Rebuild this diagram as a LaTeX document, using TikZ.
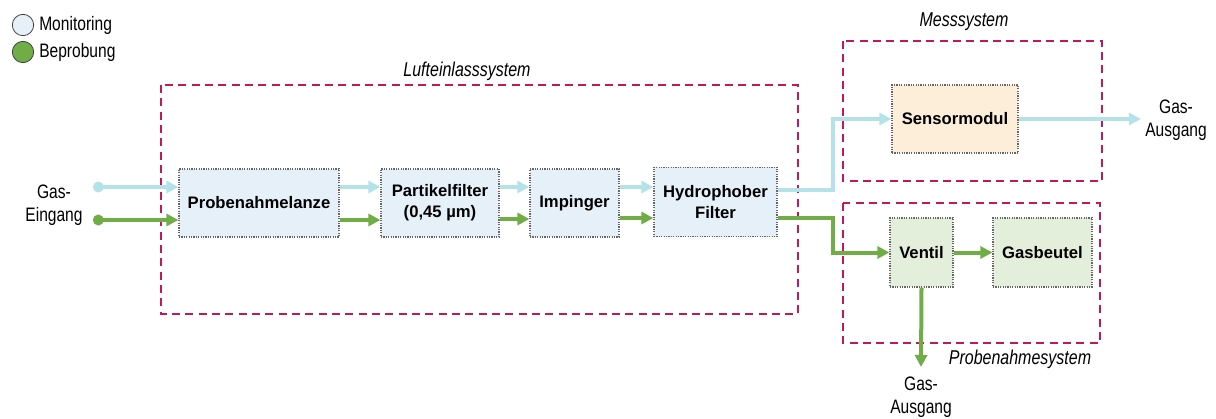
\documentclass[tikz,border=0pt]{standalone}
\usepackage{fontspec}
\setmainfont{Liberation Sans}
\newfontfamily\narrowfont{Liberation Sans}[FakeStretch=0.8]
\usetikzlibrary{arrows.meta,calc}
\definecolor{sysred}{HTML}{C2185B}
\definecolor{monline}{HTML}{B3E3E8}
\definecolor{probline}{HTML}{70AD47}
\definecolor{bluefill}{HTML}{E6F0F8}
\definecolor{orangefill}{HTML}{FDEEDA}
\definecolor{greenfill}{HTML}{E3EFDB}
\definecolor{dotgray}{HTML}{666666}
\tikzset{
  unit/.style={draw=dotgray, line width=0.9pt, dash pattern=on 0.9pt off 0.9pt,
    font=\fontsize{12.5}{14}\selectfont\bfseries, align=center, inner sep=0pt},
  bluebox/.style={unit, fill=bluefill},
  orangebox/.style={unit, fill=orangefill},
  greenbox/.style={unit, fill=greenfill},
  sysbox/.style={draw=sysred, line width=1.6pt, dash pattern=on 6pt off 4pt},
  syslabel/.style={font=\narrowfont\fontsize{15}{17}\selectfont\itshape},
  plain/.style={font=\narrowfont\fontsize{14.6}{17.5}\selectfont, align=center, inner sep=0pt},
  mon/.style={draw=monline, line width=3pt, -{Triangle[length=9pt,width=9pt]}},
  prob/.style={draw=probline, line width=3pt, -{Triangle[length=9pt,width=9pt]}},
  legcirc/.style={circle, draw=dotgray!60!black, line width=0.6pt, minimum size=16pt, inner sep=0pt},
}
\begin{document}
\begin{tikzpicture}[x=0.75pt,y=-0.75pt]
\useasboundingbox (0,0) rectangle (1216,418);

% legend
\node[legcirc, fill=bluefill] (lm) at (23,25) {};
\node[legcirc, fill=probline] (lb) at (23,52) {};
\node[plain, anchor=west] (lmt) at (39,25) {Monitoring};
\node[plain, anchor=west] (lbt) at (39,52) {Beprobung};

% system boxes
\draw[sysbox] (161,85) rectangle (798,314);
\node[syslabel] (l1) at (467,71) {Lufteinlasssystem};
\draw[sysbox] (843,41) rectangle (1102,181);
\node[syslabel] (l2) at (964,22) {Messsystem};
\draw[sysbox] (843,203) rectangle (1100,343);
\node[syslabel] (l3) at (1020,359) {Probenahmesystem};

% units
\node[bluebox, minimum width=120pt, minimum height=51pt] (pl) at (259,203) {Probenahmelanze};
\node[bluebox, minimum width=88.5pt, minimum height=51pt] (pf) at (440,203) {Partikelfilter\\[2pt](0,45 µm)};
\node[bluebox, minimum width=66.75pt, minimum height=51pt] (im) at (574.5,203) {Impinger};
\node[bluebox, minimum width=92.25pt, minimum height=52pt] (hf) at (715.5,202) {Hydrophober\\[2pt]Filter};
\node[orangebox, minimum width=94.5pt, minimum height=51pt] (sm) at (955,119) {Sensormodul};
\node[greenbox, minimum width=47.25pt, minimum height=51.75pt] (ve) at (921.5,252.5) {Ventil};
\node[greenbox, minimum width=74.25pt, minimum height=51.75pt] (gb) at (1042.5,252.5) {Gasbeutel};

% io labels
\node[plain] (ein) at (54,205) {Gas-\\Eingang};
\node[plain] (aus1) at (1176,120) {Gas-\\Ausgang};
\node[plain] (aus2) at (921,397) {Gas-\\Ausgang};

% reference rows
\coordinate (my) at (0,187);
\coordinate (py) at (0,220);
\coordinate (ms) at (93,187);
\coordinate (ps) at (93,220);
\coordinate (mbend) at (833,0);
\coordinate (mend) at (1141,119);
\coordinate (pend) at (921,367);

% monitoring flow
\draw[mon, {Circle[length=8pt]}-{Triangle[length=9pt,width=9pt]}] (ms) -- (pl.west |- my);
\draw[mon] (pl.east |- my) -- (pf.west |- my);
\draw[mon] (pf.east |- my) -- (im.west |- my);
\draw[mon] (im.east |- my) -- (hf.west |- my);
\draw[mon] (hf.east |- 0,190) -| (mbend |- sm.west) -- (sm.west);
\draw[mon] (sm.east) -- (mend);

% sampling flow
\draw[prob, {Circle[length=8pt]}-{Triangle[length=9pt,width=9pt]}] (ps) -- (pl.west |- py);
\draw[prob] (pl.east |- py) -- (pf.west |- py);
\draw[prob] (pf.east |- 0,219) -- (im.west |- 0,219);
\draw[prob] (im.east |- 0,218) -- (hf.west |- 0,218);
\draw[prob] (hf.east |- 0,218) -| (mbend |- ve.west) -- (ve.west);
\draw[prob] (ve.east) -- (gb.west);
\draw[prob] (ve.south) -- (pend);
\end{tikzpicture}
\end{document}
